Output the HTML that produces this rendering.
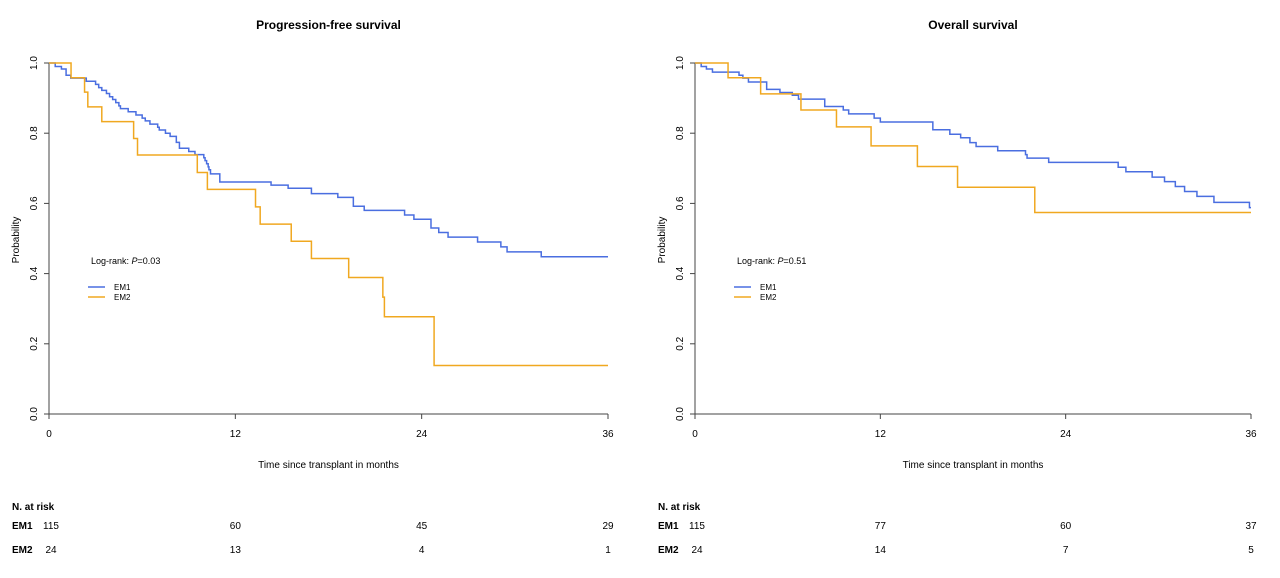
<!DOCTYPE html>
<html><head><meta charset="utf-8"><style>
body{margin:0;background:#fff;}
svg{display:block;font-family:"Liberation Sans",Arial,sans-serif;}
</style></head><body>
<svg id="c" width="1280" height="578"></svg>
<script>
const ticksX=[0,12,24,36];
const ticksY=[0,0.2,0.4,0.6,0.8,1.0];
const tickYLabels=["0.0","0.2","0.4","0.6","0.8","1.0"];
const pfsEM1T=[0.4,0.8,1.1,1.4,2.4,3.0,3.2,3.4,3.7,3.9,4.1,4.3,4.5,4.6,5.1,5.6,6.0,6.2,6.5,7.0,7.1,7.5,7.8,8.2,8.4,9.0,9.4,9.97,10.05,10.15,10.25,10.3,10.4,11.0,14.3,15.4,16.9,18.6,19.6,20.3,22.9,23.5,24.6,25.1,25.7,27.6,29.1,29.5,31.7];
const pfsEM1S=[0.99,0.983,0.965,0.957,0.948,0.939,0.93,0.922,0.913,0.904,0.896,0.887,0.878,0.87,0.861,0.852,0.843,0.835,0.826,0.817,0.809,0.8,0.791,0.774,0.757,0.748,0.739,0.73,0.722,0.713,0.704,0.696,0.684,0.661,0.652,0.643,0.628,0.617,0.592,0.58,0.567,0.555,0.53,0.517,0.504,0.49,0.476,0.462,0.448];
const pfsEM2T=[1.42,2.29,2.5,3.4,5.45,5.7,9.55,10.2,13.3,13.6,15.6,16.9,19.3,21.5,21.6,24.8];
const pfsEM2S=[0.958,0.917,0.875,0.833,0.785,0.738,0.688,0.64,0.59,0.541,0.492,0.443,0.389,0.333,0.277,0.138];
const osEM1T=[0.4,0.74,1.13,2.85,3.1,3.46,4.64,5.5,6.3,6.7,8.4,9.6,9.95,11.6,12.0,15.4,16.5,17.2,17.8,18.2,19.6,21.4,21.5,22.9,27.4,27.9,29.6,30.4,31.1,31.7,32.5,33.6,35.9];
const osEM1S=[0.99,0.983,0.974,0.965,0.957,0.946,0.925,0.916,0.908,0.897,0.876,0.866,0.855,0.843,0.832,0.81,0.797,0.787,0.773,0.762,0.75,0.739,0.729,0.717,0.703,0.69,0.675,0.662,0.648,0.634,0.62,0.603,0.588];
const osEM2T=[2.14,4.25,6.86,9.16,11.4,14.4,17.0,22.0];
const osEM2S=[0.958,0.912,0.866,0.818,0.764,0.705,0.646,0.574];
const pfsRiskEM1=[115,60,45,29];
const pfsRiskEM2=[24,13,4,1];
const osRiskEM1=[115,77,60,37];
const osRiskEM2=[24,14,7,5];

const NS="http://www.w3.org/2000/svg";
const svg=document.getElementById('c');
function mk(tag,attrs,parent,text){const e=document.createElementNS(NS,tag);for(const k in attrs)e.setAttribute(k,attrs[k]);if(text!==undefined)e.textContent=text;(parent||svg).appendChild(e);return e;}

function panel(id,x0,x1,title,pText,e1T,e1S,e2T,e2S,r1,r2){
  const g=mk('g',{});
  
  
  const y0=414,y1=63;
  const sx=t=>x0+(x1-x0)*t/36, sy=v=>y0-(y0-y1)*v;
  const t=mk('text',{x:(x0+x1)/2,y:29,'text-anchor':'middle','font-size':12,'font-weight':'bold'},g,title);
  
  const ax=mk('path',{d:`M${x0} ${sy(1)}V${y0}H${x1}`,stroke:'#444',fill:'none','stroke-width':1},g);
  
  ticksX.forEach(v=>{mk('line',{x1:sx(v),x2:sx(v),y1:y0,y2:y0+5,stroke:'#444'},g);
    const l=mk('text',{x:sx(v),y:y0+23,'text-anchor':'middle','font-size':10},g,String(v));
    });
  ticksY.forEach((v,i)=>{mk('line',{x1:x0-5,x2:x0,y1:sy(v),y2:sy(v),stroke:'#444'},g);
    const l=mk('text',{x:0,y:0,'text-anchor':'middle','font-size':10,transform:`translate(${x0-12},${sy(v)}) rotate(-90)`},g,tickYLabels[i]);
    });
  const yt=mk('text',{x:0,y:0,'text-anchor':'middle','font-size':10,transform:`translate(${x0-30},240) rotate(-90)`},g,'Probability');
  
  const xt=mk('text',{x:(x0+x1)/2,y:468,'text-anchor':'middle','font-size':10},g,'Time since transplant in months');
  
  const pt=mk('text',{x:x0+42,y:264,'font-size':9},g);
  
  mk('tspan',{},pt,'Log-rank: ');mk('tspan',{'font-style':'italic'},pt,'P');mk('tspan',{},pt,'='+pText);
  function step(T,S,col,name){let d=`M${sx(0)} ${sy(1)}`;let prev=1;
    T.forEach((tt,i)=>{d+=`H${sx(tt)}V${sy(S[i])}`;prev=S[i];});d+=`H${sx(36)}`;
    const p=mk('path',{d,stroke:col,fill:'none','stroke-width':1.5},g);
    }
  step(e1T,e1S,'#4a6ee0',id+'-em1-curve');
  step(e2T,e2S,'#f0a820',id+'-em2-curve');
  [['EM1','#4a6ee0',287],['EM2','#f0a820',297]].forEach(([n,c,y])=>{
    const le=mk('g',{},g);
    mk('line',{x1:x0+39,x2:x0+56,y1:y,y2:y,stroke:c,'stroke-width':1.5},le);
    mk('text',{x:x0+65,y:y+3,'font-size':8},le,n);});
  const rt=mk('text',{x:x0-37,y:510,'font-size':10,'font-weight':'bold'},g,'N. at risk');
  
  [[r1,'EM1',529],[r2,'EM2',553]].forEach(([arr,n,y])=>{
    const rg=mk('g',{},g);
    mk('text',{x:x0-37,y,'font-size':10,'font-weight':'bold'},rg,n);
    arr.forEach((v,i)=>mk('text',{x:sx(ticksX[i])+(i==0?2:0),y,'text-anchor':'middle','font-size':10},rg,String(v)));});
}
panel('pfs',49,608,'Progression-free survival','0.03',pfsEM1T,pfsEM1S,pfsEM2T,pfsEM2S,pfsRiskEM1,pfsRiskEM2);
panel('os',695,1251,'Overall survival','0.51',osEM1T,osEM1S,osEM2T,osEM2S,osRiskEM1,osRiskEM2);
</script>
</body></html>
